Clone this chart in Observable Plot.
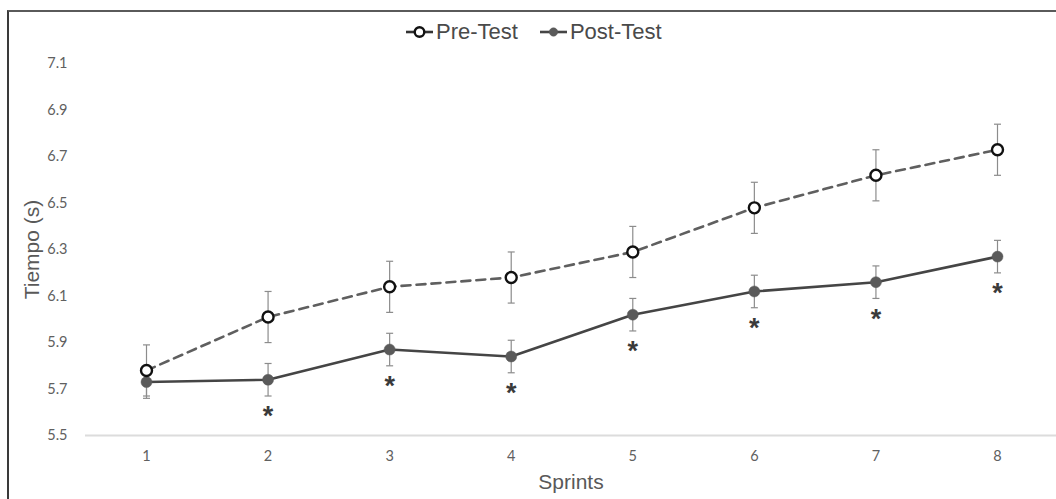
<!DOCTYPE html>
<html>
<head>
<meta charset="utf-8">
<script src="https://cdn.jsdelivr.net/npm/d3@7"></script>
<script src="https://cdn.jsdelivr.net/npm/@observablehq/plot@0.6"></script>
<style>
  html, body { margin: 0; padding: 0; background: #fff; }
  #wrap { position: relative; width: 1056px; height: 499px; overflow: hidden; font-family: "Liberation Sans", Arial, sans-serif; }
  #frame { position: absolute; left: 7px; top: 10px; width: 1060px; height: 500px; border-top: 2px solid #5a5a5a; border-left: 2px solid #3a3a3a; box-sizing: border-box; }
  #chart { position: absolute; left: 0; top: 0; }
  #legend { position: absolute; left: 404px; top: 19px; display: flex; align-items: center; font-size: 22px; color: #4a4a4a; white-space: nowrap; }
  #legend .item { display: flex; align-items: center; margin-right: 20px; }
  #legend svg { display: block; margin-right: 1px; }
</style>
</head>
<body>
<div id="wrap">
  <div id="frame"></div>
  <div id="chart"></div>
  <div id="legend"></div>
</div>
<script>
// ---- data ----
const sprints   = [1, 2, 3, 4, 5, 6, 7, 8];
const preTest   = [5.78, 6.01, 6.14, 6.18, 6.29, 6.48, 6.62, 6.73];
const preSD     = [0.11, 0.11, 0.11, 0.11, 0.11, 0.11, 0.11, 0.11];
const postTest  = [5.73, 5.74, 5.87, 5.84, 6.02, 6.12, 6.16, 6.27];
const postSD    = [0.07, 0.07, 0.07, 0.07, 0.07, 0.07, 0.07, 0.07];
const sigSprints = [2, 3, 4, 5, 6, 7, 8];
const yTicks    = [5.5, 5.7, 5.9, 6.1, 6.3, 6.5, 6.7, 6.9, 7.1];
const seriesNames = ["Pre-Test", "Post-Test"];
const yLabel = "Tiempo (s)";
const xLabel = "Sprints";

const rows = sprints.map((s, i) => ({
  sprint: s, pre: preTest[i], preSD: preSD[i], post: postTest[i], postSD: postSD[i]
}));
const sigRows = rows.filter(r => sigSprints.includes(r.sprint));

const cap = { draw(ctx) { ctx.moveTo(-3.5, 0); ctx.lineTo(3.5, 0); } };
const errColor = "#8c8c8c";

const chart = Plot.plot({
  width: 1056,
  height: 499,
  marginLeft: 85,
  marginRight: 0,
  marginTop: 63,
  marginBottom: 64,
  style: { fontFamily: "Lato, 'Liberation Sans', sans-serif", background: "transparent", overflow: "visible" },
  x: { domain: [1, 8], range: [146, 997] },
  y: { domain: [5.5, 7.1], range: [435, 63.3] },
  marks: [
    Plot.ruleY([5.5], { stroke: "#dcdcdc", strokeWidth: 2 }),
    Plot.axisY({ ticks: yTicks, tickSize: 0, tickPadding: 18, tickFormat: d3.format(".1f"), fontSize: 14.5, color: "#606060", label: null }),
    Plot.axisX({ ticks: sprints, tickSize: 0, tickPadding: 15, tickFormat: d3.format("d"), fontSize: 14.5, color: "#606060", label: null }),
    // error bars
    Plot.link(rows, { x1: "sprint", x2: "sprint", y1: d => d.pre - d.preSD, y2: d => d.pre + d.preSD, stroke: errColor, strokeWidth: 1.2 }),
    Plot.dot(rows, { x: "sprint", y: d => d.pre - d.preSD, symbol: cap, fill: "none", stroke: errColor, strokeWidth: 1.2 }),
    Plot.dot(rows, { x: "sprint", y: d => d.pre + d.preSD, symbol: cap, fill: "none", stroke: errColor, strokeWidth: 1.2 }),
    Plot.link(rows, { x1: "sprint", x2: "sprint", y1: d => d.post - d.postSD, y2: d => d.post + d.postSD, stroke: errColor, strokeWidth: 1.2 }),
    Plot.dot(rows, { x: "sprint", y: d => d.post - d.postSD, symbol: cap, fill: "none", stroke: errColor, strokeWidth: 1.2 }),
    Plot.dot(rows, { x: "sprint", y: d => d.post + d.postSD, symbol: cap, fill: "none", stroke: errColor, strokeWidth: 1.2 }),
    // lines
    Plot.line(rows, { x: "sprint", y: "pre", stroke: "#5f5f5f", strokeWidth: 2.6, strokeDasharray: "9,6" }),
    Plot.line(rows, { x: "sprint", y: "post", stroke: "#454545", strokeWidth: 2.6 }),
    // markers
    Plot.dot(rows, { x: "sprint", y: "post", r: 5.5, fill: "#5a5a5a", stroke: "#5a5a5a", strokeWidth: 0.5 }),
    Plot.dot(rows, { x: "sprint", y: "pre", r: 5.5, fill: "white", stroke: "#111", strokeWidth: 2.4 }),
    // significance
    Plot.text(sigRows, { x: "sprint", y: "post", text: () => "*", dy: 37, fontSize: 27, fontWeight: "bold", fill: "#3a3a3a", fontFamily: "'Liberation Sans', Arial, sans-serif" }),
    // axis titles
    Plot.text([yLabel], { frameAnchor: "left", textAnchor: "middle", dx: -53, rotate: -90, fontSize: 21, fill: "#595959", fontFamily: "'Liberation Sans', Arial, sans-serif" }),
    Plot.text([xLabel], { frameAnchor: "bottom", dy: 53, fontSize: 21, fill: "#595959", fontFamily: "'Liberation Sans', Arial, sans-serif" })
  ]
});
document.getElementById("chart").appendChild(chart);

// legend
const legend = document.getElementById("legend");
const legendSpecs = [
  { name: seriesNames[0], fill: "white", stroke: "#111", line: "#333", r: 4.8, sw: 2.4 },
  { name: seriesNames[1], fill: "#5a5a5a", stroke: "#5a5a5a", line: "#454545", r: 4.2, sw: 0.5 }
];
for (const s of legendSpecs) {
  const item = document.createElement("div");
  item.className = "item";
  item.innerHTML = `<svg width="31" height="14" viewBox="0 0 31 14">
      <line x1="2" y1="7" x2="29" y2="7" stroke="${s.line}" stroke-width="2.6"/>
      <circle cx="15.5" cy="7" r="${s.r}" fill="${s.fill}" stroke="${s.stroke}" stroke-width="${s.sw}"/>
    </svg><span>${s.name}</span>`;
  legend.appendChild(item);
}
</script>
</body>
</html>
